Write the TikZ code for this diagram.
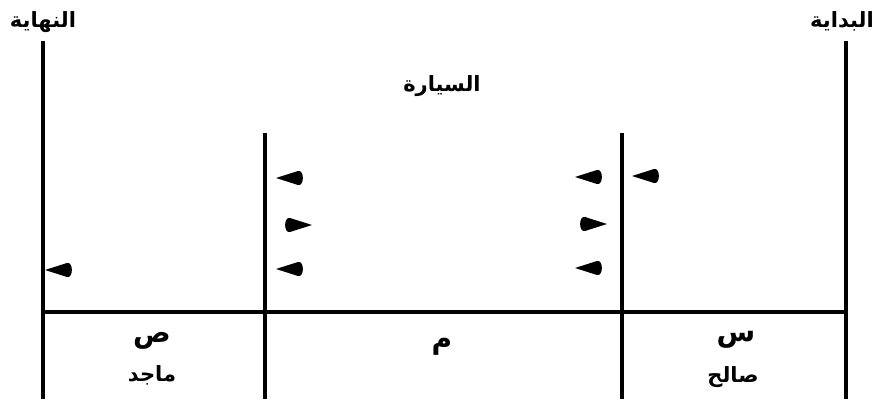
\documentclass[tikz,border=0pt]{standalone}
\usepackage{fontspec}
\newfontfamily\arabicfont[Script=Arabic]{DejaVu Sans}
\TeXXeTstate=1
\tikzset{
  lbl/.style={font=\arabicfont\bfseries\fontsize{21}{24}\selectfont, inner sep=0pt, anchor=center},
  big/.style={font=\arabicfont\bfseries\fontsize{28}{30}\selectfont},
  bar/.style={line width=3.8pt},
  wedgeL/.pic={\fill (-14,0) -- (8,-7) .. controls (14.5,-8.5) and (14.5,8.5) .. (8,7) -- cycle;},
  wedgeR/.pic={\fill (14,0) -- (-8,-7) .. controls (-14.5,-8.5) and (-14.5,8.5) .. (-8,7) -- cycle;}
}
\begin{document}
\begin{tikzpicture}[x=1pt,y=-1pt]
\useasboundingbox (0,0) rectangle (879,403);
% frame coordinates
\coordinate (Lt) at (43,41);
\coordinate (Lb) at (43,399);
\coordinate (Rt) at (846,41);
\coordinate (Rb) at (846,399);
\coordinate (At) at (265,133);
\coordinate (Ab) at (265,399);
\coordinate (Bt) at (622,133);
\coordinate (Bb) at (622,399);
\coordinate (Hl) at (43,312);
\coordinate (Hr) at (846,312);
\draw[bar] (Lt) -- (Lb);
\draw[bar] (Rt) -- (Rb);
\draw[bar] (At) -- (Ab);
\draw[bar] (Bt) -- (Bb);
\draw[bar] (Hl) -- (Hr);
% labels
\node[lbl] (finish) at (43,22) {\beginR النهاية\endR};
\node[lbl] (start) at (842,21) {\beginR البداية\endR};
\node[lbl] (car) at (442,86) {\beginR السيارة\endR};
\node[lbl,big] (y) at (152,341) {\beginR ص\endR};
\node[lbl] (majid) at (152,375) {\beginR ماجد\endR};
\node[lbl,big] (m) at (442,347) {\beginR م\endR};
\node[lbl,big] (x) at (736,340) {\beginR س\endR};
\node[lbl] (salih) at (733,377) {\beginR صالح\endR};
% flags
\pic (f1) at (59,270) {wedgeL};
\pic (f2) at (290,178) {wedgeL};
\pic (f3) at (298,225) {wedgeR};
\pic (f4) at (290,269) {wedgeL};
\pic (f5) at (589,177) {wedgeL};
\pic (f6) at (593,224) {wedgeR};
\pic (f7) at (589,268) {wedgeL};
\pic (f8) at (646,176) {wedgeL};
\end{tikzpicture}
\end{document}
